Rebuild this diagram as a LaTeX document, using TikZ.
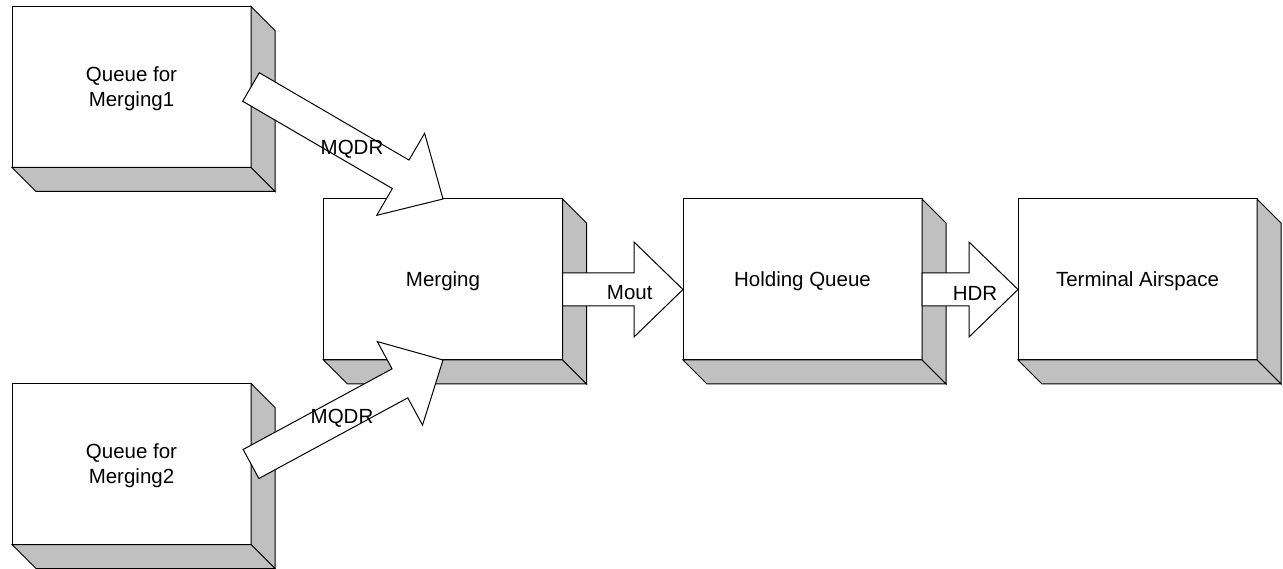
\documentclass[tikz,border=0pt]{standalone}
\usepackage{fontspec}
\setmainfont{Liberation Sans}
\usetikzlibrary{calc}
\definecolor{sidegray}{RGB}{192,192,192}
\tikzset{
  blockface/.style={draw, fill=white, minimum width=239pt, minimum height=161pt,
    inner sep=0pt, outer sep=0pt},
  blocktext/.style={align=center, inner sep=0pt, font=\fontsize{20.5}{25}\selectfont},
  depthface/.style={draw, fill=sidegray, line join=miter},
  fatbody/.style={draw, fill=white, line join=miter},
  flowlabel/.style={font=\fontsize{20.5}{25}\selectfont, inner sep=0pt},
}
% grey right and bottom faces that give a block its depth
\newcommand\blockdepth[1]{%
  \filldraw[depthface] (#1.north east) -- ++(24,24) -- ($(#1.south east)+(24,24)$) -- (#1.south east) -- cycle;
  \filldraw[depthface] (#1.south west) -- ++(24,24) -- ($(#1.south east)+(24,24)$) -- (#1.south east) -- cycle;
}
% broad hollow arrow from #1 (tail centre) to #2 (tip)
\newcommand\fatarrow[2]{%
  \draw[fatbody] let \p1=($(#2)-(#1)$), \n1={atan2(\y1,\x1)}, \n2={veclen(\x1,\y1)} in
       ($(#1)+({\n1+90}:16.5pt)$)
    -- ($(#1)+({\n1}:{\n2-49pt})+({\n1+90}:16.5pt)$)
    -- ($(#1)+({\n1}:{\n2-49pt})+({\n1+90}:47.5pt)$)
    -- (#2)
    -- ($(#1)+({\n1}:{\n2-49pt})+({\n1-90}:47.5pt)$)
    -- ($(#1)+({\n1}:{\n2-49pt})+({\n1-90}:16.5pt)$)
    -- ($(#1)+({\n1-90}:16.5pt)$) -- cycle;}
\begin{document}
\begin{tikzpicture}[x=1pt, y=-1pt, line width=1pt]
\useasboundingbox (0,0) rectangle (1283,569);

% blocks
\node[blockface] (q1)    at (131.5,87)     {};
\node[blockface] (q2)    at (131.5,464)    {};
\node[blockface] (merge) at (443,279.5)    {};
\node[blockface] (hold)  at (802.5,279.5)  {};
\node[blockface] (term)  at (1137.5,279.5) {};
\blockdepth{q1}
\blockdepth{q2}
\blockdepth{merge}
\blockdepth{hold}
\blockdepth{term}

% block titles
\node[blocktext] (q1t)    at ($(q1)+(0,2)$)    {Queue for\\Merging1};
\node[blocktext] (q2t)    at ($(q2)+(0,2)$)    {Queue for\\Merging2};
\node[blocktext] (merget) at ($(merge)+(0,2)$) {Merging};
\node[blocktext] (holdt)  at ($(hold)+(0,2)$)  {Holding Queue};
\node[blocktext] (termt)  at ($(term)+(0,2)$)  {Terminal Airspace};

% flows between blocks
\coordinate (mout1) at ($(merge.east)+(0,10)$);
\coordinate (mout2) at ($(hold.west)+(0,10)$);
\coordinate (hdr1)  at ($(hold.east)+(0,10)$);
\coordinate (hdr2)  at ($(term.west)+(0,10)$);
\fatarrow{q1.east}{merge.north}
\fatarrow{q2.east}{merge.south}
\fatarrow{mout1}{mout2}
\fatarrow{hdr1}{hdr2}

% flow labels
\node[flowlabel] (lq1)  at ($(q1.east)!0.5!(merge.north)+(5,6)$) {MQDR};
\node[flowlabel] (lq2)  at ($(q2.east)!0.5!(merge.south)+(-5,6)$) {MQDR};
\node[flowlabel] (lmo)  at ($(mout1)!0.5!(mout2)+(7,3.5)$) {Mout};
\node[flowlabel] (lhdr) at ($(hdr1)!0.5!(hdr2)+(5,3.5)$) {HDR};
\end{tikzpicture}
\end{document}
